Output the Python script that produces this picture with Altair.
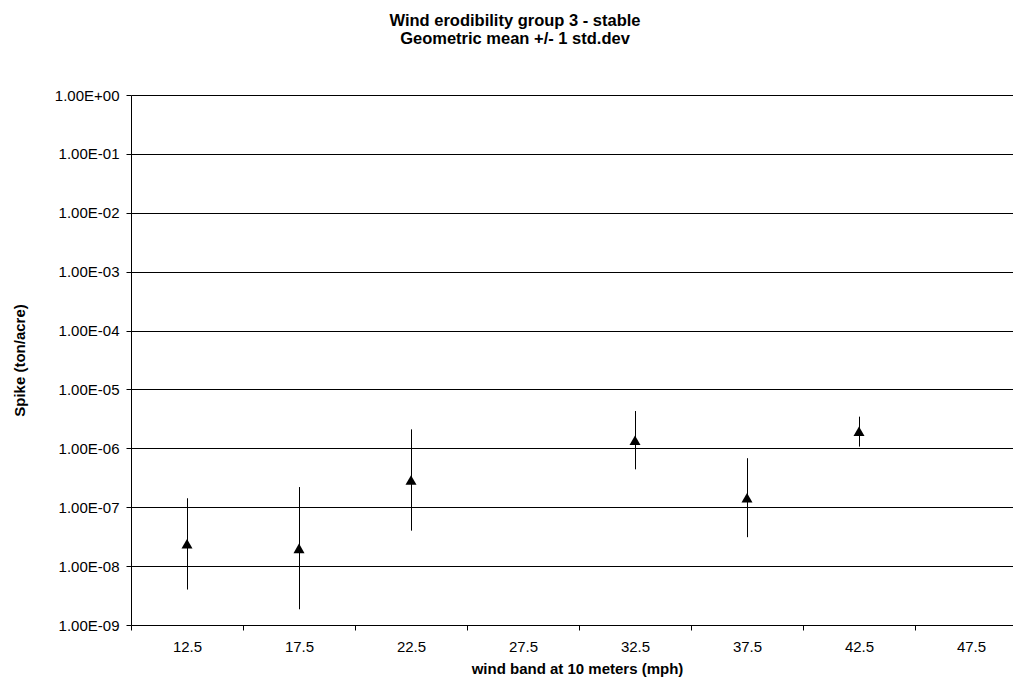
import altair as alt
import pandas as pd

# Data
wind = [12.5, 17.5, 22.5, 32.5, 37.5, 42.5]
geo_mean = [2.4e-8, 2.0e-8, 2.9e-7, 1.37e-6, 1.45e-7, 1.95e-6]
lower = [4.0e-9, 1.85e-9, 4.0e-8, 4.4e-7, 3.1e-8, 1.07e-6]
upper = [1.42e-7, 2.2e-7, 2.1e-6, 4.3e-6, 6.8e-7, 3.45e-6]

x_labels = [12.5, 17.5, 22.5, 27.5, 32.5, 37.5, 42.5, 47.5]
x_ticks = [10, 15, 20, 25, 30, 35, 40, 45]
y_ticks = [1e-9, 1e-8, 1e-7, 1e-6, 1e-5, 1e-4, 1e-3, 1e-2, 1e-1, 1e0]

df = pd.DataFrame({"wind": wind, "mean": geo_mean, "lo": lower, "hi": upper})

FONT = "Liberation Sans"

x_scale = alt.Scale(domain=[10, 49.375], nice=False, zero=False)
y_scale = alt.Scale(type="log", domain=[1e-9, 1], nice=False)

x_axis = alt.Axis(
    values=sorted(x_ticks + x_labels),
    labelExpr="datum.value % 5 == 0 ? '' : format(datum.value, '.1f')",
    tickOpacity={"condition": {"test": "datum.value % 5 == 0", "value": 1}, "value": 0},
    labelOverlap=False,
    labelFlush=False,
    grid=False,
    tickSize=5,
    labelPadding=9,
    labelFontSize=15,
    title="wind band at 10 meters (mph)",
    titleFontSize=15,
    titleFontWeight="bold",
    titleX=446,
    titleY=48,
    titleAlign="center",
    titleBaseline="alphabetic",
)

y_axis = alt.Axis(
    values=y_ticks,
    labelExpr="'1.00E' + (round(log(datum.value)/LN10) < 0 ? '-' : '+') + (abs(round(log(datum.value)/LN10)) < 10 ? '0' : '') + abs(round(log(datum.value)/LN10))",
    grid=True,
    gridColor="#000000",
    gridOpacity=1,
    gridWidth=1,
    tickSize=5,
    labelPadding=7,
    labelFontSize=15,
    title="Spike (ton/acre)",
    titleFontSize=15,
    titleFontWeight="bold",
    titleX=-112,
    titleY=265,
    titleAlign="center",
    titleBaseline="middle",
)

base = alt.Chart(df)

bars = base.mark_rule(color="black", strokeWidth=1, xOffset=0.5).encode(
    x=alt.X("wind:Q", scale=x_scale, axis=x_axis),
    y=alt.Y("lo:Q", scale=y_scale, axis=y_axis),
    y2="hi:Q",
)

points = base.mark_point(
    shape="triangle-up", filled=True, size=121, color="black", opacity=1
).encode(
    x=alt.X("wind:Q", scale=x_scale),
    y=alt.Y("mean:Q", scale=y_scale),
)

chart = (
    alt.layer(bars, points)
    .properties(
        width=882,
        height=530,
        autosize=alt.AutoSizeParams(type="none"),
        padding={"left": 123, "top": 87, "right": 0, "bottom": 52},
        title=alt.TitleParams(
            text=["Wind erodibility group 3 - stable", "Geometric mean +/- 1 std.dev"],
            fontSize=16.5,
            fontWeight="bold",
            font=FONT,
            color="black",
            anchor="middle",
            frame="group",
            dx=-57,
            offset=41,
            lineHeight=18,
        ),
    )
    .configure(font=FONT)
    .configure_axis(
        labelFont=FONT,
        titleFont=FONT,
        labelColor="black",
        titleColor="black",
        domainColor="black",
        tickColor="black",
        domainWidth=1,
        tickWidth=1,
    )
    .configure_view(strokeWidth=0)
)

chart.save("out.html", embed_options={"renderer": "svg", "actions": False})
